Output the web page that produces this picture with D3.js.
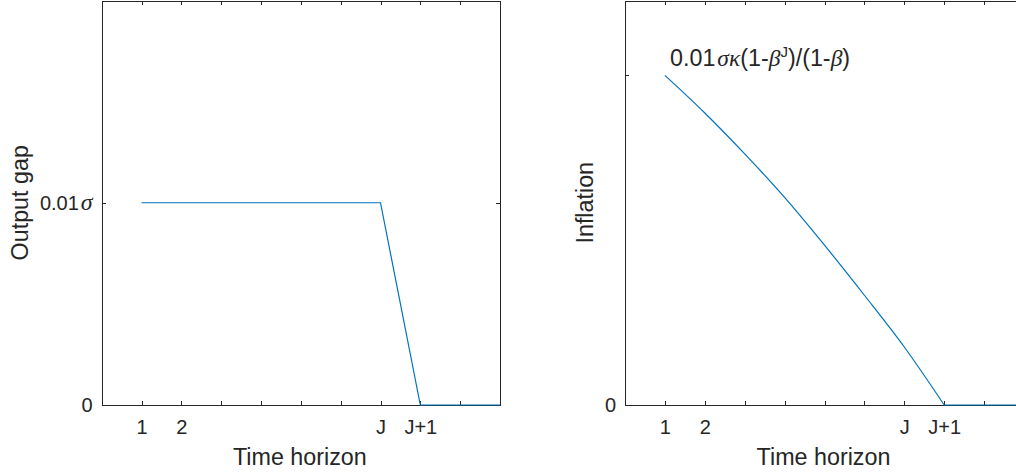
<!DOCTYPE html>
<html>
<head>
<meta charset="utf-8">
<script src="https://cdn.jsdelivr.net/npm/d3@7"></script>
<style>
  html, body { margin: 0; padding: 0; background: #fff; }
  svg { display: block; }
  .axis path, .axis line { stroke: #262626; stroke-width: 1; shape-rendering: crispEdges; }
  .axis text { font-family: "Liberation Sans", Arial, sans-serif; font-size: 20px; fill: #262626; }
  .lbl { font-family: "Liberation Sans", Arial, sans-serif; font-size: 23.3px; fill: #262626; }
  .greek { font-family: "Liberation Serif", "Times New Roman", serif; font-style: italic; }
</style>
</head>
<body>
<svg id="chart" width="1016" height="473"></svg>
<script>
// Horizon periods (t = 1 ... 10); J = 7
const periods = [1, 2, 3, 4, 5, 6, 7, 8, 9, 10];
// Output gap path, in units of 0.01σ
const outputGap = [1, 1, 1, 1, 1, 1, 1, 0, 0, 0];
// Inflation path, in units of 0.01σκ(1-β^J)/(1-β)
const inflation = [1, 0.886, 0.762, 0.630, 0.485, 0.333, 0.176, 0, 0, 0];

// Tick marks along the horizon and the few that carry labels
const xTicks = [1, 2, 3, 4, 5, 6, 7, 8, 9];
const xTickValues = [1, 2, 7, 8];
const xTickLabels = ["1", "2", "J", "J+1"];

// Period at which both responses reach zero (J+1)
const releasePeriod = 8;

const svg = d3.select("#chart");

function panel(opts) {
  const { left, right, top, bottom, xMax, yMax, yTicks, yTickLabels, series, smooth, yTitle, yTitleX } = opts;
  const x = d3.scaleLinear().domain([0, xMax]).range([left, right]);
  const y = d3.scaleLinear().domain([0, yMax]).range([bottom, top]);
  const g = svg.append("g");

  const xLabelOf = v => {
    const i = xTickValues.indexOf(v);
    return i >= 0 ? xTickLabels[i] : "";
  };

  // bottom axis with labels
  g.append("g").attr("class", "axis")
    .attr("transform", `translate(0,${bottom})`)
    .call(d3.axisBottom(x).tickValues(xTicks).tickFormat(xLabelOf)
      .tickSizeInner(-4).tickSizeOuter(0).tickPadding(15));
  // top axis (box edge)
  g.append("g").attr("class", "axis")
    .attr("transform", `translate(0,${top})`)
    .call(d3.axisTop(x).tickValues(xTicks).tickFormat(() => "")
      .tickSizeInner(-4).tickSizeOuter(0));
  // left axis with labels
  const yl = g.append("g").attr("class", "axis")
    .attr("transform", `translate(${left},0)`)
    .call(d3.axisLeft(y).tickValues(yTicks).tickFormat((d, i) => yTickLabels[i])
      .tickSizeInner(-4).tickSizeOuter(0).tickPadding(9));
  // right axis (box edge)
  g.append("g").attr("class", "axis")
    .attr("transform", `translate(${right},0)`)
    .call(d3.axisRight(y).tickValues(yTicks).tickFormat(() => "")
      .tickSizeInner(-4).tickSizeOuter(0));

  // "0.01σ" tick label with italic sigma
  yl.selectAll(".tick text").each(function (d, i) {
    const t = yTickLabels[i];
    if (t.endsWith("σ")) {
      const s = d3.select(this).text("");
      s.append("tspan").text(t.slice(0, -1));
      s.append("tspan").attr("class", "greek").attr("dx", 2).attr("font-size", "24px").text("σ");
    }
  });

  const pts = series.map((v, i) => [periods[i], v]);
  const k = periods.indexOf(releasePeriod);
  const lineLin = d3.line().x(d => x(d[0])).y(d => y(d[1]));
  const lineSmooth = d3.line().x(d => x(d[0])).y(d => y(d[1])).curve(d3.curveMonotoneX);
  const segs = smooth
    ? [{ pts: pts.slice(0, k + 1), gen: lineSmooth }, { pts: pts.slice(k), gen: lineLin }]
    : [{ pts, gen: lineLin }];
  segs.forEach(s => {
    g.append("path")
      .attr("fill", "none")
      .attr("stroke", "#0072BD")
      .attr("stroke-width", 1.2)
      .attr("d", s.gen(s.pts));
  });

  g.append("text").attr("class", "lbl")
    .attr("text-anchor", "middle")
    .attr("x", (left + right) / 2 - 1).attr("y", 465)
    .text("Time horizon");

  g.append("text").attr("class", "lbl")
    .attr("text-anchor", "middle")
    .attr("transform", `translate(${yTitleX},${(top + bottom) / 2}) rotate(-90)`)
    .text(yTitle);

  return { x, y, g };
}

panel({
  left: 101.7, right: 500, top: 0.5, bottom: 405,
  xMax: 10, yMax: 2,
  yTicks: [0, 1], yTickLabels: ["0", "0.01σ"],
  series: outputGap, smooth: false, yTitle: "Output gap", yTitleX: 28
});

const p2 = panel({
  left: 625, right: 1024, top: 0.5, bottom: 405,
  xMax: 10, yMax: 405 / 330,
  yTicks: [0, 1], yTickLabels: ["0", ""],
  series: inflation, smooth: true, yTitle: "Inflation", yTitleX: 593
});

// Annotation for the initial inflation response
const ann = p2.g.append("text").attr("class", "lbl")
  .attr("x", 670).attr("y", 66).attr("font-size", "20.5px");
ann.append("tspan").text("0.01");
ann.append("tspan").attr("class", "greek").attr("dx", 2).attr("font-size", "23.5px").text("σκ");
ann.append("tspan").text("(1-");
ann.append("tspan").attr("class", "greek").attr("font-size", "23.5px").text("β");
ann.append("tspan").attr("font-size", "15px").attr("dy", -9).text("J");
ann.append("tspan").attr("dy", 9).text(")/(1-");
ann.append("tspan").attr("class", "greek").attr("font-size", "23.5px").text("β");
ann.append("tspan").text(")");
</script>
</body>
</html>
